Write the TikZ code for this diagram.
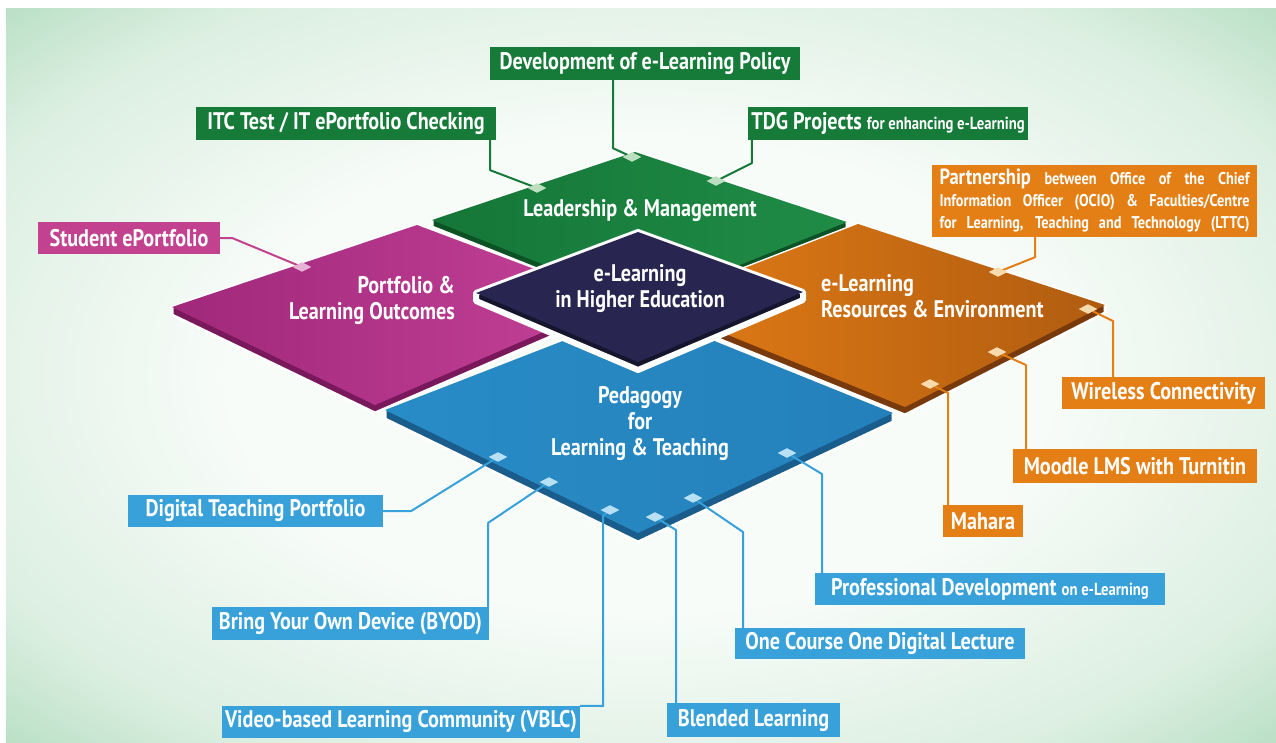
\documentclass[tikz,border=0pt]{standalone}
\usepackage{fontspec}
\newfontfamily\cf{PT Sans}[FakeStretch=0.84]
\usetikzlibrary{shapes.geometric}

% palette
\definecolor{bgc}{RGB}{248,252,249}
\definecolor{bgm}{RGB}{220,239,225}
\definecolor{bgo}{RGB}{162,213,178}
\definecolor{bgp}{RGB}{128,198,150}
\definecolor{bge}{RGB}{104,182,128}
\definecolor{gtopa}{RGB}{21,118,56}
\definecolor{gtopb}{RGB}{31,140,70}
\definecolor{gside}{RGB}{12,82,36}
\definecolor{gbox}{RGB}{22,122,57}
\definecolor{gmk}{RGB}{190,222,192}
\definecolor{ptopa}{RGB}{160,40,122}
\definecolor{ptopb}{RGB}{196,66,152}
\definecolor{pside}{RGB}{122,24,92}
\definecolor{pbox}{RGB}{194,66,143}
\definecolor{pmk}{RGB}{232,178,214}
\definecolor{otopa}{RGB}{226,124,22}
\definecolor{otopb}{RGB}{176,92,16}
\definecolor{oside}{RGB}{120,58,12}
\definecolor{obox}{RGB}{228,127,22}
\definecolor{omk}{RGB}{247,218,174}
\definecolor{btopa}{RGB}{40,140,198}
\definecolor{btopb}{RGB}{36,128,186}
\definecolor{bside}{RGB}{26,92,140}
\definecolor{bbox}{RGB}{56,161,218}
\definecolor{bmk}{RGB}{184,224,244}
\definecolor{ntop}{RGB}{40,38,80}
\definecolor{nside}{RGB}{22,21,46}

\pgfdeclareradialshading{bgglow}{\pgfpoint{0bp}{0bp}}{%
  color(0bp)=(bgc); color(16bp)=(bgc); color(29bp)=(bgm);
  color(40bp)=(bgo); color(52bp)=(bgp); color(72bp)=(bge)}

\tikzset{
  tilefont/.style={text=white, align=center, inner sep=0pt,
    font=\cf\bfseries\fontsize{24}{26}\selectfont},
  lbl/.style={fill=#1, text=white, inner sep=0pt,
    font=\cf\bfseries\fontsize{24}{26}\selectfont},
  mk/.style={diamond, aspect=2, fill=#1, minimum width=18pt,
    minimum height=9pt, inner sep=0pt},
  link/.style={draw=#1, line width=2pt, line join=round},
  rim/.style={draw=white, line width=3pt, line join=round},
}
\newcommand{\sm}{\fontsize{17.5}{19}\selectfont}
\newcommand{\smp}{\fontsize{17}{19}\selectfont}

\begin{document}
\begin{tikzpicture}[x=1pt,y=-1pt]
\useasboundingbox (0,0) rectangle (1276,742);
\fill[white] (0,0) rectangle (1276,742);
\shade[shading=bgglow] (6,8) rectangle (1276,742);

% ---- tiles: side slab first, then the top face ----
% Leadership & Management
\filldraw[rim, fill=gside] (635,152) -- (847,222) -- (847,229) -- (642,311)
  -- (432,227) -- (432,220) -- cycle;
\shade[left color=gtopa, right color=gtopb] (635,152) -- (847,222) -- (642,304) -- (432,220) -- cycle;
% e-Learning Resources & Environment
\filldraw[rim, fill=oside] (858,224) -- (1105,305) -- (1105,313) -- (905,415)
  -- (652,312) -- (652,304) -- cycle;
\shade[shading angle=120, left color=otopa, right color=otopb] (858,224) -- (1105,305) -- (905,407) -- (652,304) -- cycle;
% Portfolio & Learning Outcomes
\filldraw[rim, fill=pside] (417,225) -- (617,300) -- (617,308) -- (375,413)
  -- (172,315) -- (172,307) -- cycle;
\shade[left color=ptopa, right color=ptopb] (417,225) -- (617,300) -- (375,405) -- (172,307) -- cycle;
% Pedagogy for Learning & Teaching
\filldraw[rim, fill=bside] (640,311) -- (893,413) -- (893,422) -- (638,542)
  -- (385,419) -- (385,410) -- cycle;
\shade[left color=btopa, right color=btopb] (640,311) -- (893,413) -- (638,533) -- (385,410) -- cycle;
% e-Learning in Higher Education
\filldraw[draw=white, line width=6pt, line join=round, fill=nside] (638,232) -- (803,292) -- (803,300)
  -- (638,370) -- (476,301) -- (476,293) -- cycle;
\fill[ntop] (638,232) -- (803,292) -- (638,362) -- (476,293) -- cycle;

% ---- tile titles ----
\node[tilefont] (tlead) at (640,210) {Leadership \& Management};
\node[tilefont] (tcore) at (640,289) {e-Learning\\in Higher Education};
\node[tilefont, align=right, anchor=east] (tport) at (455,300) {Portfolio \&\\Learning Outcomes};
\node[tilefont, align=left, anchor=west] (tres) at (821,296) {e-Learning\\Resources \& Environment};
\node[tilefont] (tped) at (640,424) {Pedagogy\\for\\Learning \& Teaching};

% ---- label boxes ----
\node[lbl=gbox, minimum width=310pt, minimum height=33pt] (dev) at (645,63.5) {Development of e-Learning Policy};
\node[lbl=gbox, minimum width=300pt, minimum height=33pt] (itc) at (346,123.5) {ITC Test / IT ePortfolio Checking};
\node[lbl=gbox, minimum width=280pt, minimum height=33pt] (tdg) at (888,123.5) {TDG Projects {\sm for enhancing e-Learning}};
\node[lbl=pbox, minimum width=182pt, minimum height=32pt] (stu) at (129,238) {Student ePortfolio};
\node[lbl=obox, minimum width=325pt, minimum height=72pt, align=left] (part) at (1094.5,201)
  {\makebox[310pt][s]{\smp{\fontsize{22}{22}\selectfont Partnership} between Office of the Chief}\\[-4pt]
   \makebox[310pt][s]{\smp Information Officer (OCIO) \& Faculties/Centre}\\[-4pt]
   \makebox[310pt][s]{\smp for Learning, Teaching and Technology (LTTC)}};
\node[lbl=obox, minimum width=203pt, minimum height=32pt] (wire) at (1163.5,393) {Wireless Connectivity};
\node[lbl=obox, minimum width=244pt, minimum height=34pt] (mood) at (1135,466) {Moodle LMS with Turnitin};
\node[lbl=obox, minimum width=80pt, minimum height=32pt] (maha) at (983,521) {Mahara};
\node[lbl=bbox, minimum width=255pt, minimum height=32pt] (dtp) at (255.5,511) {Digital Teaching Portfolio};
\node[lbl=bbox, minimum width=277pt, minimum height=33pt] (byod) at (350.5,623.5) {Bring Your Own Device (BYOD)};
\node[lbl=bbox, minimum width=358pt, minimum height=32pt] (vblc) at (401,722) {Video-based Learning Community (VBLC)};
\node[lbl=bbox, minimum width=173pt, minimum height=34pt] (blend) at (753.5,720) {Blended Learning};
\node[lbl=bbox, minimum width=290pt, minimum height=31pt] (ocod) at (880,643.5) {One Course One Digital Lecture};
\node[lbl=bbox, minimum width=350pt, minimum height=32pt] (prof) at (990,589) {Professional Development {\sm on e-Learning}};

% ---- connection points on the tile rims ----
\node[mk=gmk] (mdev) at (632,157) {};
\node[mk=gmk] (mitc) at (537,188) {};
\node[mk=gmk] (mtdg) at (716,181) {};
\node[mk=pmk] (mstu) at (302,267) {};
\node[mk=omk] (mpart) at (998,272) {};
\node[mk=omk] (mwire) at (1088,309) {};
\node[mk=omk] (mmood) at (997,352) {};
\node[mk=omk] (mmaha) at (930,384) {};
\node[mk=bmk] (mdtp) at (498,457) {};
\node[mk=bmk] (mbyod) at (549,482) {};
\node[mk=bmk] (mvblc) at (610,510) {};
\node[mk=bmk] (mblend) at (655,517) {};
\node[mk=bmk] (mocod) at (693,498) {};
\node[mk=bmk] (mprof) at (787,453) {};

% ---- connectors ----
\draw[link=gbox] ([xshift=-32pt]dev.south) -- ++(0,68) -- (mdev.center);
\draw[link=gbox] ([xshift=-6pt]itc.south east) -- ++(0,30) -- (mitc.center);
\draw[link=gbox] ([xshift=4pt]tdg.south west) -- ++(0,23) -- (mtdg.center);
\draw[link=pbox] (stu.east) -- ++(12,0) -- (mstu.center);
\draw[link=obox] ([xshift=-59.5pt]part.south) -- ++(0,20) -- (mpart.center);
\draw[link=obox] (mwire.center) -- ++(25,12) -- ([xshift=-50.5pt]wire.north);
\draw[link=obox] (mmood.center) -- ++(29,13) -- ([xshift=-109pt]mood.north);
\draw[link=obox] (mmaha.center) -- ++(18,9) -- ([xshift=-35pt]maha.north);
\draw[link=bbox] (dtp.east) -- ++(28,0) -- (mdtp.center);
\draw[link=bbox] ([xshift=-1pt]byod.north east) -- ++(0,-84) -- (mbyod.center);
\draw[link=bbox] (mvblc.center) -- ++(-7,6) -- ++(0,190) -- (vblc.north east);
\draw[link=bbox] (mblend.center) -- ++(21,13) -- ([xshift=-77.5pt]blend.north);
\draw[link=bbox] (mocod.center) -- ++(50,34) -- ([xshift=-137pt]ocod.north);
\draw[link=bbox] (mprof.center) -- ++(35,21) -- ([xshift=-168pt]prof.north);

% markers sit on top of their connector ends
\foreach \m/\c in {mdev/gmk,mitc/gmk,mtdg/gmk,mstu/pmk,mpart/omk,mwire/omk,mmood/omk,mmaha/omk,
  mdtp/bmk,mbyod/bmk,mvblc/bmk,mblend/bmk,mocod/bmk,mprof/bmk}
  \fill[\c] (\m.north) -- (\m.east) -- (\m.south) -- (\m.west) -- cycle;
\end{tikzpicture}
\end{document}
